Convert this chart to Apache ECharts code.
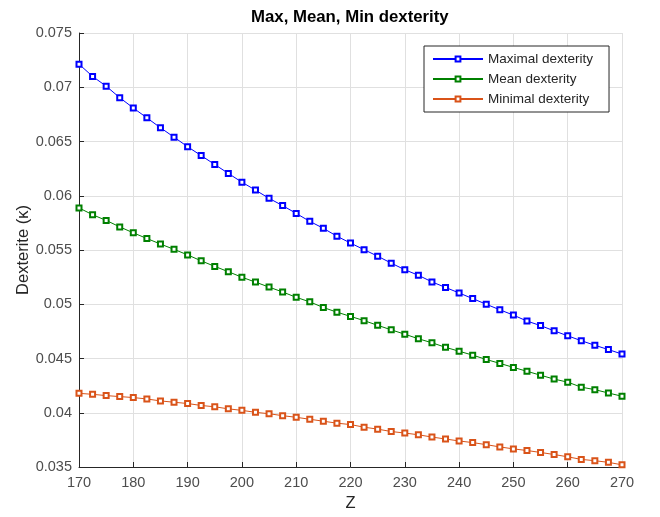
<!DOCTYPE html>
<html>
<head>
<meta charset="utf-8">
<script src="https://cdn.jsdelivr.net/npm/echarts@6/dist/echarts.min.js"></script>
<style>
html,body{margin:0;padding:0;background:#fff;}
#chart{width:660px;height:517px;}
</style>
</head>
<body>
<div id="chart"></div>
<script>
const zValues = [170,172.5,175,177.5,180,182.5,185,187.5,190,192.5,195,197.5,200,202.5,205,207.5,210,212.5,215,217.5,220,222.5,225,227.5,230,232.5,235,237.5,240,242.5,245,247.5,250,252.5,255,257.5,260,262.5,265,267.5,270];
const maxDexterity = [0.07213,0.0710,0.0701,0.06904,0.06809,0.06718,0.06627,0.0654,0.06452,0.0637,0.06288,0.06206,0.06125,0.06052,0.05976,0.05909,0.05837,0.05764,0.057,0.05627,0.05564,0.05503,0.05443,0.05379,0.05318,0.05267,0.05206,0.05155,0.05104,0.05052,0.05,0.04949,0.049,0.04845,0.04803,0.04755,0.04709,0.04664,0.04622,0.04582,0.04541];
const meanDexterity = [0.05888,0.05825,0.05773,0.05713,0.05658,0.05606,0.05555,0.05506,0.05455,0.054,0.05349,0.053,0.05249,0.05204,0.05158,0.05113,0.05064,0.05022,0.0497,0.04927,0.04888,0.04849,0.04806,0.04764,0.04724,0.04682,0.04645,0.04603,0.04567,0.04531,0.04491,0.04455,0.04418,0.04382,0.04346,0.0431,0.04282,0.04236,0.04213,0.04182,0.04152];
const minDexterity = [0.04179,0.0417,0.04158,0.04149,0.0414,0.04127,0.04109,0.04097,0.04085,0.04067,0.04055,0.04036,0.04022,0.04004,0.03991,0.03973,0.03958,0.0394,0.03922,0.03904,0.03891,0.03867,0.03849,0.03827,0.03813,0.03797,0.03776,0.03758,0.0374,0.03725,0.03706,0.03685,0.03667,0.03652,0.03634,0.03615,0.03594,0.0357,0.03558,0.03543,0.0352];
const seriesNames = ['Maximal dexterity','Mean dexterity','Minimal dexterity'];
const xTicks = [170,180,190,200,210,220,230,240,250,260,270];
const yTicks = [0.035,0.04,0.045,0.05,0.055,0.06,0.065,0.07,0.075];

const colors = ['#0000ff','#008000','#d95319'];
const FONT = '"Liberation Sans", Arial, Helvetica, sans-serif';
const pair = (ys) => zValues.map((z,i)=>[z, ys[i]]);
const mk = (name, ys, c) => ({
  name, type:'line', data: pair(ys),
  symbol:'emptyRect', symbolSize:5, showSymbol:true,
  lineStyle:{color:c, width:1}, itemStyle:{color:c, borderColor:c, borderWidth:1},
  emphasis:{disabled:true}, animation:false
});

const chart = echarts.init(document.getElementById('chart'), null, {renderer:'canvas'});
chart.setOption({
  backgroundColor:'#ffffff',
  animation:false,
  title:{text:'Max, Mean, Min dexterity', left:251, top:9, padding:0,
    textStyle:{fontFamily:FONT, fontSize:16.8, fontWeight:'bold', color:'#000'}},
  grid:{left:79, right:38, top:33, bottom:44, containLabel:false},
  legend:{
    orient:'vertical', left:424, top:46,
    data: seriesNames,
    itemWidth:50, itemHeight:6, itemGap:4,
    padding:[5,16,5,8],
    borderColor:'#262626', borderWidth:1, backgroundColor:'#fff',
    textStyle:{fontFamily:FONT, fontSize:13.5, color:'#262626', lineHeight:16}
  },
  xAxis:{
    type:'value', min:170, max:270, interval:10,
    name:'Z', nameLocation:'middle', nameGap:28,
    nameTextStyle:{fontFamily:FONT, fontSize:16.5, color:'#262626'},
    axisLine:{show:true, lineStyle:{color:'#262626', width:1}},
    axisTick:{show:true, inside:true, length:5, lineStyle:{color:'#262626'}},
    axisLabel:{fontFamily:FONT, fontSize:14.5, color:'#4d4d4d', margin:8,
      formatter:(v)=> xTicks.includes(v) ? String(v) : ''},
    splitLine:{show:true, lineStyle:{color:'#e0e0e0', width:1}}
  },
  yAxis:{
    type:'value', min:0.035, max:0.075, interval:0.005,
    name:'Dexterite (κ)', nameLocation:'middle', nameGap:47, nameRotate:90,
    nameMoveOverlap:false,
    nameTextStyle:{fontFamily:FONT, fontSize:16.5, color:'#262626'},
    axisLine:{show:true, lineStyle:{color:'#262626', width:1}},
    axisTick:{show:true, inside:true, length:5, lineStyle:{color:'#262626'}},
    axisLabel:{fontFamily:FONT, fontSize:14.5, color:'#4d4d4d', margin:7,
      formatter:(v)=>{ const r = +v.toFixed(3); const t = yTicks.find(y=>Math.abs(y-r)<1e-9); return t!==undefined ? String(t) : ''; }},
    splitLine:{show:true, lineStyle:{color:'#e0e0e0', width:1}}
  },
  series:[
    mk(seriesNames[0], maxDexterity, colors[0]),
    mk(seriesNames[1], meanDexterity, colors[1]),
    mk(seriesNames[2], minDexterity, colors[2])
  ]
});
</script>
</body>
</html>
